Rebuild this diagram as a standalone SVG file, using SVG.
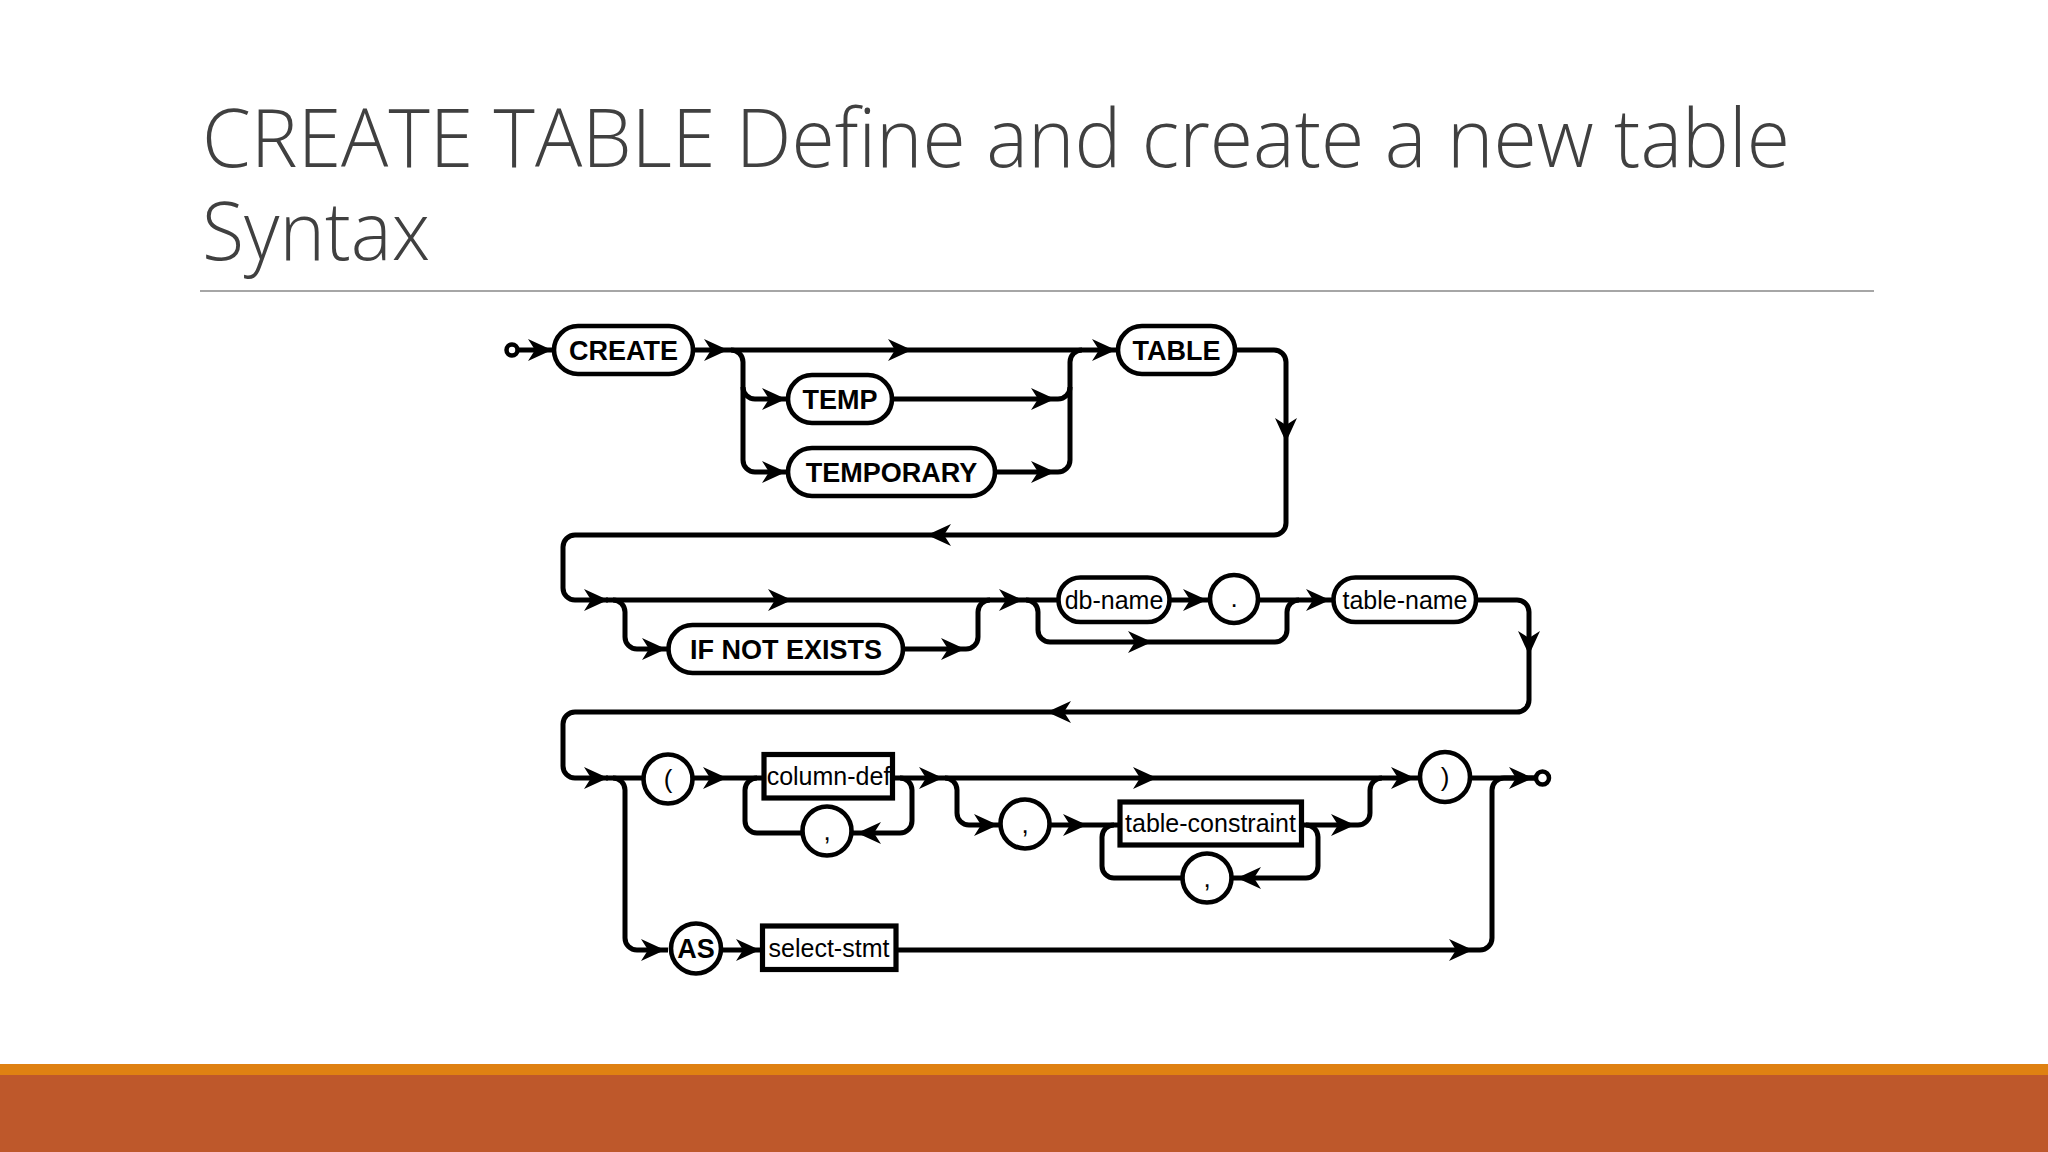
<svg xmlns="http://www.w3.org/2000/svg" width="2048" height="1152" viewBox="0 0 2048 1152">
<defs>
<style>
.t{font-family:"Open Sans","Liberation Sans",sans-serif;font-weight:300;fill:#404040;font-size:81px}
.wire{fill:none;stroke:#000;stroke-width:5}
.term{fill:#fff;stroke:#000;stroke-width:4.6}
.box{fill:#fff;stroke:#000;stroke-width:5.2}
.kw{font-family:"Liberation Sans",Arial,sans-serif;font-weight:bold;font-size:27px;text-anchor:middle;fill:#000}
.id{font-family:"Liberation Sans",Arial,sans-serif;font-size:25px;text-anchor:middle;fill:#000}
.pn{font-family:"Liberation Sans",Arial,sans-serif;font-size:26px;text-anchor:middle;fill:#000}
</style>
<path id="ah" d="M0,0 L-24,-11 L-17,0 L-24,11 Z" fill="#000"/>
</defs>
<rect x="0" y="0" width="2048" height="1152" fill="#fff"/>
<g id="title">
<text class="t"><tspan x="202" y="167" textLength="1588" lengthAdjust="spacingAndGlyphs">CREATE TABLE Define and create a new table</tspan><tspan x="202" y="260" textLength="228" lengthAdjust="spacingAndGlyphs">Syntax</tspan></text>
<line x1="200" y1="291" x2="1874" y2="291" stroke="#a6a6a6" stroke-width="2"/>
</g>
<g id="footer">
<rect x="0" y="1064" width="2048" height="11" fill="#df8112"/>
<rect x="0" y="1075" width="2048" height="77" fill="#be582b"/>
</g>
<g id="connectors">
<path class="wire" d="M518,350 H552"/>
<path class="wire" d="M692,350 H1116"/>
<path class="wire" d="M731,350 A12,12 0 0 1 743,362 V460 A12,12 0 0 0 755,472 H786"/>
<path class="wire" d="M743,387 A12,12 0 0 0 755,399 H786"/>
<path class="wire" d="M892,399 H1058 A12,12 0 0 0 1070,387 V362 A12,12 0 0 1 1082,350"/>
<path class="wire" d="M994,472 H1058 A12,12 0 0 0 1070,460 V387"/>
<path class="wire" d="M1235,350 H1274 A12,12 0 0 1 1286,362 V523 A12,12 0 0 1 1274,535 H575 A12,12 0 0 0 563,547 V588 A12,12 0 0 0 575,600 H608"/>
<path class="wire" d="M606,600 H1060"/>
<path class="wire" d="M613,600 A12,12 0 0 1 625,612 V637 A12,12 0 0 0 637,649 H668"/>
<path class="wire" d="M903,649 H966 A12,12 0 0 0 978,637 V612 A12,12 0 0 1 990,600"/>
<path class="wire" d="M1026,600 A12,12 0 0 1 1038,612 V630 A12,12 0 0 0 1050,642 H1275 A12,12 0 0 0 1287,630 V612 A12,12 0 0 1 1299,600"/>
<path class="wire" d="M1169,600 H1208"/>
<path class="wire" d="M1258,600 H1334"/>
<path class="wire" d="M1476,600 H1517 A12,12 0 0 1 1529,612 V700 A12,12 0 0 1 1517,712 H575 A12,12 0 0 0 563,724 V766 A12,12 0 0 0 575,778 H608"/>
<path class="wire" d="M606,778 H1418"/>
<path class="wire" d="M900,778 A12,12 0 0 1 912,790 V821 A12,12 0 0 1 900,833 H757 A12,12 0 0 1 745,821 V790 A12,12 0 0 1 757,778"/>
<path class="wire" d="M945,778 A12,12 0 0 1 957,790 V813 A12,12 0 0 0 969,825 H1000"/>
<path class="wire" d="M1050,825 H1122"/>
<path class="wire" d="M1302,825 H1358 A12,12 0 0 0 1370,813 V790 A12,12 0 0 1 1382,778"/>
<path class="wire" d="M1306,825 A12,12 0 0 1 1318,837 V866 A12,12 0 0 1 1306,878 H1114 A12,12 0 0 1 1102,866 V837 A12,12 0 0 1 1114,825"/>
<path class="wire" d="M613,778 A12,12 0 0 1 625,790 V938 A12,12 0 0 0 637,950 H668"/>
<path class="wire" d="M720,950 H762"/>
<path class="wire" d="M896,950 H1480 A12,12 0 0 0 1492,938 V790 A12,12 0 0 1 1504,778 H1536"/>
<path class="wire" d="M1470,778 H1536"/>
<use href="#ah" transform="translate(552,350)"/>
<use href="#ah" transform="translate(728,350)"/>
<use href="#ah" transform="translate(912,350)"/>
<use href="#ah" transform="translate(786,399)"/>
<use href="#ah" transform="translate(786,472)"/>
<use href="#ah" transform="translate(1055,399)"/>
<use href="#ah" transform="translate(1055,472)"/>
<use href="#ah" transform="translate(1116,350)"/>
<use href="#ah" transform="translate(1286,442) rotate(90)"/>
<use href="#ah" transform="translate(927,535) rotate(180)"/>
<use href="#ah" transform="translate(608,600)"/>
<use href="#ah" transform="translate(792,600)"/>
<use href="#ah" transform="translate(666,649)"/>
<use href="#ah" transform="translate(965,649)"/>
<use href="#ah" transform="translate(1023,600)"/>
<use href="#ah" transform="translate(1207,600)"/>
<use href="#ah" transform="translate(1152,642)"/>
<use href="#ah" transform="translate(1330,600)"/>
<use href="#ah" transform="translate(1529,655) rotate(90)"/>
<use href="#ah" transform="translate(1047,712) rotate(180)"/>
<use href="#ah" transform="translate(608,778)"/>
<use href="#ah" transform="translate(727,778)"/>
<use href="#ah" transform="translate(943,778)"/>
<use href="#ah" transform="translate(857,833) rotate(180)"/>
<use href="#ah" transform="translate(1157,778)"/>
<use href="#ah" transform="translate(998,825)"/>
<use href="#ah" transform="translate(1087,825)"/>
<use href="#ah" transform="translate(1237,878) rotate(180)"/>
<use href="#ah" transform="translate(1355,825)"/>
<use href="#ah" transform="translate(1415,778)"/>
<use href="#ah" transform="translate(1533,778)"/>
<use href="#ah" transform="translate(665,950)"/>
<use href="#ah" transform="translate(760,950)"/>
<use href="#ah" transform="translate(1473,950)"/>
</g>
<g id="start"><circle cx="512" cy="350" r="5.5" fill="#fff" stroke="#000" stroke-width="4.5"/></g>
<g id="create"><rect class="term" x="554" y="326" width="139" height="48" rx="24"/><text class="kw" x="623.5" y="359.5">CREATE</text></g>
<g id="temp"><rect class="term" x="788" y="375" width="104" height="48" rx="24"/><text class="kw" x="840" y="408.5">TEMP</text></g>
<g id="temporary"><rect class="term" x="788" y="448" width="207" height="48" rx="24"/><text class="kw" x="891.5" y="481.5">TEMPORARY</text></g>
<g id="table"><rect class="term" x="1118" y="326" width="117" height="48" rx="24"/><text class="kw" x="1176.5" y="359.5">TABLE</text></g>
<g id="ifnotexists"><rect class="term" x="668.5" y="625" width="234.5" height="48" rx="24"/><text class="kw" x="786" y="658.5">IF NOT EXISTS</text></g>
<g id="dbname"><rect class="term" x="1058.5" y="577.5" width="111" height="44.5" rx="22"/><text class="id" x="1114" y="608.5">db-name</text></g>
<g id="dot"><circle class="term" cx="1234" cy="599" r="24"/><text class="pn" x="1234" y="607">.</text></g>
<g id="tablename"><rect class="term" x="1333.5" y="577.5" width="142.5" height="44.5" rx="22"/><text class="id" x="1405" y="608.5">table-name</text></g>
<g id="lparen"><circle class="term" cx="668" cy="779" r="24.5"/><text class="pn" x="668" y="788">(</text></g>
<g id="columndef"><rect class="box" x="764" y="754.5" width="128.5" height="43.5"/><text class="id" x="828.5" y="785">column-def</text></g>
<g id="comma1"><circle class="term" cx="827" cy="831" r="24.5"/><text class="pn" x="827" y="840">,</text></g>
<g id="comma2"><circle class="term" cx="1025" cy="824" r="24.5"/><text class="pn" x="1025" y="833">,</text></g>
<g id="tableconstraint"><rect class="box" x="1120" y="802" width="181.5" height="43"/><text class="id" x="1210.5" y="832">table-constraint</text></g>
<g id="comma3"><circle class="term" cx="1207" cy="878" r="24.5"/><text class="pn" x="1207" y="887">,</text></g>
<g id="rparen"><circle class="term" cx="1445" cy="777" r="25"/><text class="pn" x="1445" y="786">)</text></g>
<g id="end"><circle cx="1542.5" cy="778" r="6.5" fill="#fff" stroke="#000" stroke-width="4.5"/></g>
<g id="as"><circle class="term" cx="696" cy="948.5" r="25"/><text class="kw" x="696" y="958">AS</text></g>
<g id="selectstmt"><rect class="box" x="762.5" y="926" width="133.5" height="43.5"/><text class="id" x="829" y="956.5">select-stmt</text></g>
</svg>
